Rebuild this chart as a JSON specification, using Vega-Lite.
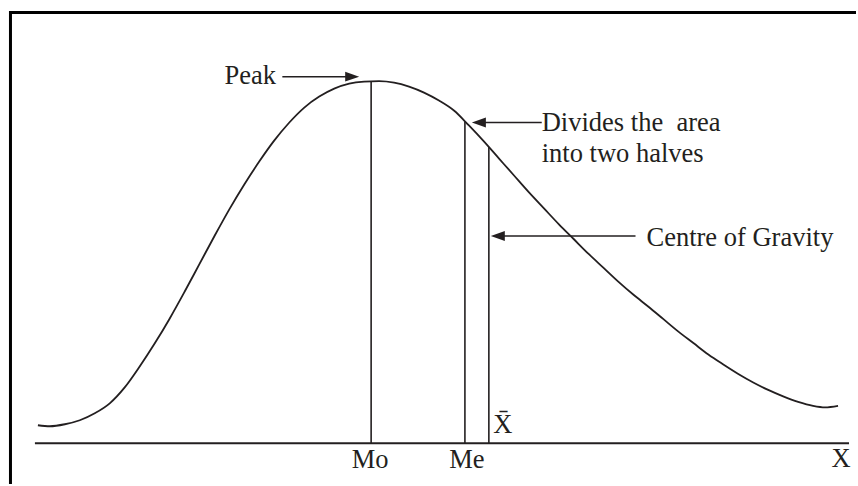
{
  "$schema": "https://vega.github.io/schema/vega-lite/v6.json",
  "width": 858,
  "height": 486,
  "autosize": {"type": "fit", "contains": "padding"},
  "padding": 0,
  "background": "white",
  "config": {"view": {"stroke": null}},
  "datasets": {
    "curve": [
      {"x": 38, "h": 18}, {"x": 50, "h": 17}, {"x": 65, "h": 19}, {"x": 80, "h": 23},
      {"x": 95, "h": 30}, {"x": 110, "h": 40}, {"x": 125, "h": 56}, {"x": 140, "h": 77},
      {"x": 155, "h": 100}, {"x": 170, "h": 125}, {"x": 185, "h": 152}, {"x": 200, "h": 180},
      {"x": 215, "h": 208}, {"x": 230, "h": 235}, {"x": 245, "h": 260}, {"x": 260, "h": 283},
      {"x": 275, "h": 304}, {"x": 290, "h": 322}, {"x": 305, "h": 337}, {"x": 320, "h": 348},
      {"x": 335, "h": 356}, {"x": 350, "h": 361}, {"x": 365, "h": 363}, {"x": 380, "h": 363.5},
      {"x": 395, "h": 362}, {"x": 410, "h": 358}, {"x": 425, "h": 352}, {"x": 440, "h": 344},
      {"x": 455, "h": 334}, {"x": 470, "h": 319}, {"x": 485, "h": 303}, {"x": 500, "h": 286},
      {"x": 515, "h": 269}, {"x": 530, "h": 252}, {"x": 545, "h": 236}, {"x": 560, "h": 220},
      {"x": 575, "h": 205}, {"x": 590, "h": 190}, {"x": 605, "h": 176}, {"x": 620, "h": 162},
      {"x": 635, "h": 149}, {"x": 650, "h": 137}, {"x": 665, "h": 124.5}, {"x": 680, "h": 112},
      {"x": 695, "h": 100.5}, {"x": 710, "h": 89}, {"x": 725, "h": 79}, {"x": 740, "h": 69.5},
      {"x": 755, "h": 61}, {"x": 770, "h": 53.5}, {"x": 785, "h": 47}, {"x": 800, "h": 41.5},
      {"x": 815, "h": 37.5}, {"x": 827, "h": 36}, {"x": 840, "h": 37.5}
    ],
    "verticals": [
      {"name": "Mo", "x": 372, "top": 363.3, "bottom": 0},
      {"name": "Me", "x": 466, "top": 323, "bottom": 0},
      {"name": "Mean", "x": 490, "top": 297.5, "bottom": 0}
    ],
    "arrowLines": [
      {"name": "Peak", "x": 283, "x2": 352, "h": 368},
      {"name": "Median", "x": 481, "x2": 543, "h": 322},
      {"name": "Mean", "x": 500, "x2": 637, "h": 208}
    ],
    "headsRight": [
      {"name": "Peak", "x": 353, "h": 368}
    ],
    "headsLeft": [
      {"name": "Median", "x": 480, "h": 322},
      {"name": "Mean", "x": 499, "h": 208}
    ],
    "leftTexts": [
      {"label": "Peak", "x": 225, "h": 361},
      {"label": "Divides the \u00a0area", "x": 543, "h": 313},
      {"label": "into two halves", "x": 543, "h": 282},
      {"label": "Centre of Gravity", "x": 648, "h": 198}
    ],
    "centerTexts": [
      {"label": "Mo", "x": 371, "h": -25},
      {"label": "Me", "x": 468, "h": -25},
      {"label": "X", "x": 843, "h": -24},
      {"label": "X\u0304", "x": 504, "h": 10}
    ]
  },
  "encoding": {
    "x": {"type": "quantitative", "scale": {"domain": [0, 858], "nice": false, "zero": false}, "axis": null},
    "y": {"type": "quantitative", "scale": {"domain": [-41, 445], "nice": false, "zero": false}, "axis": null}
  },
  "layer": [
    {
      "data": {"values": [{"x": 10.5, "x2": 858, "h": 432.5, "h2": 432.5}, {"x": 10.5, "x2": 10.5, "h": 434, "h2": -41}]},
      "mark": {"type": "rule", "strokeWidth": 3, "color": "#000000"},
      "encoding": {"x": {"field": "x"}, "x2": {"field": "x2"}, "y": {"field": "h"}, "y2": {"field": "h2"}}
    },
    {
      "data": {"values": [{"x": 35, "x2": 851, "h": 0}]},
      "mark": {"type": "rule", "strokeWidth": 2, "color": "#231f20"},
      "encoding": {"x": {"field": "x"}, "x2": {"field": "x2"}, "y": {"field": "h"}}
    },
    {
      "data": {"name": "curve"},
      "mark": {"type": "line", "interpolate": "monotone", "strokeWidth": 1.8, "color": "#231f20"},
      "encoding": {"x": {"field": "x"}, "y": {"field": "h"}}
    },
    {
      "data": {"name": "verticals"},
      "mark": {"type": "rule", "strokeWidth": 1.6, "color": "#231f20"},
      "encoding": {"x": {"field": "x"}, "y": {"field": "top"}, "y2": {"field": "bottom"}}
    },
    {
      "data": {"name": "arrowLines"},
      "mark": {"type": "rule", "strokeWidth": 1.6, "color": "#231f20"},
      "encoding": {"x": {"field": "x"}, "x2": {"field": "x2"}, "y": {"field": "h"}}
    },
    {
      "data": {"name": "headsRight"},
      "mark": {"type": "point", "shape": "M1,0L-1,-0.7L-1,0.7Z", "size": 196, "filled": true, "opacity": 1, "color": "#231f20"},
      "encoding": {"x": {"field": "x"}, "y": {"field": "h"}}
    },
    {
      "data": {"name": "headsLeft"},
      "mark": {"type": "point", "shape": "M-1,0L1,-0.7L1,0.7Z", "size": 196, "filled": true, "opacity": 1, "color": "#231f20"},
      "encoding": {"x": {"field": "x"}, "y": {"field": "h"}}
    },
    {
      "data": {"name": "leftTexts"},
      "mark": {"type": "text", "align": "left", "baseline": "alphabetic", "font": "Liberation Serif", "fontSize": 26.5, "color": "#231f20"},
      "encoding": {"x": {"field": "x"}, "y": {"field": "h"}, "text": {"field": "label"}}
    },
    {
      "data": {"name": "centerTexts"},
      "mark": {"type": "text", "align": "center", "baseline": "alphabetic", "font": "Liberation Serif", "fontSize": 26.5, "color": "#231f20"},
      "encoding": {"x": {"field": "x"}, "y": {"field": "h"}, "text": {"field": "label"}}
    }
  ]
}
